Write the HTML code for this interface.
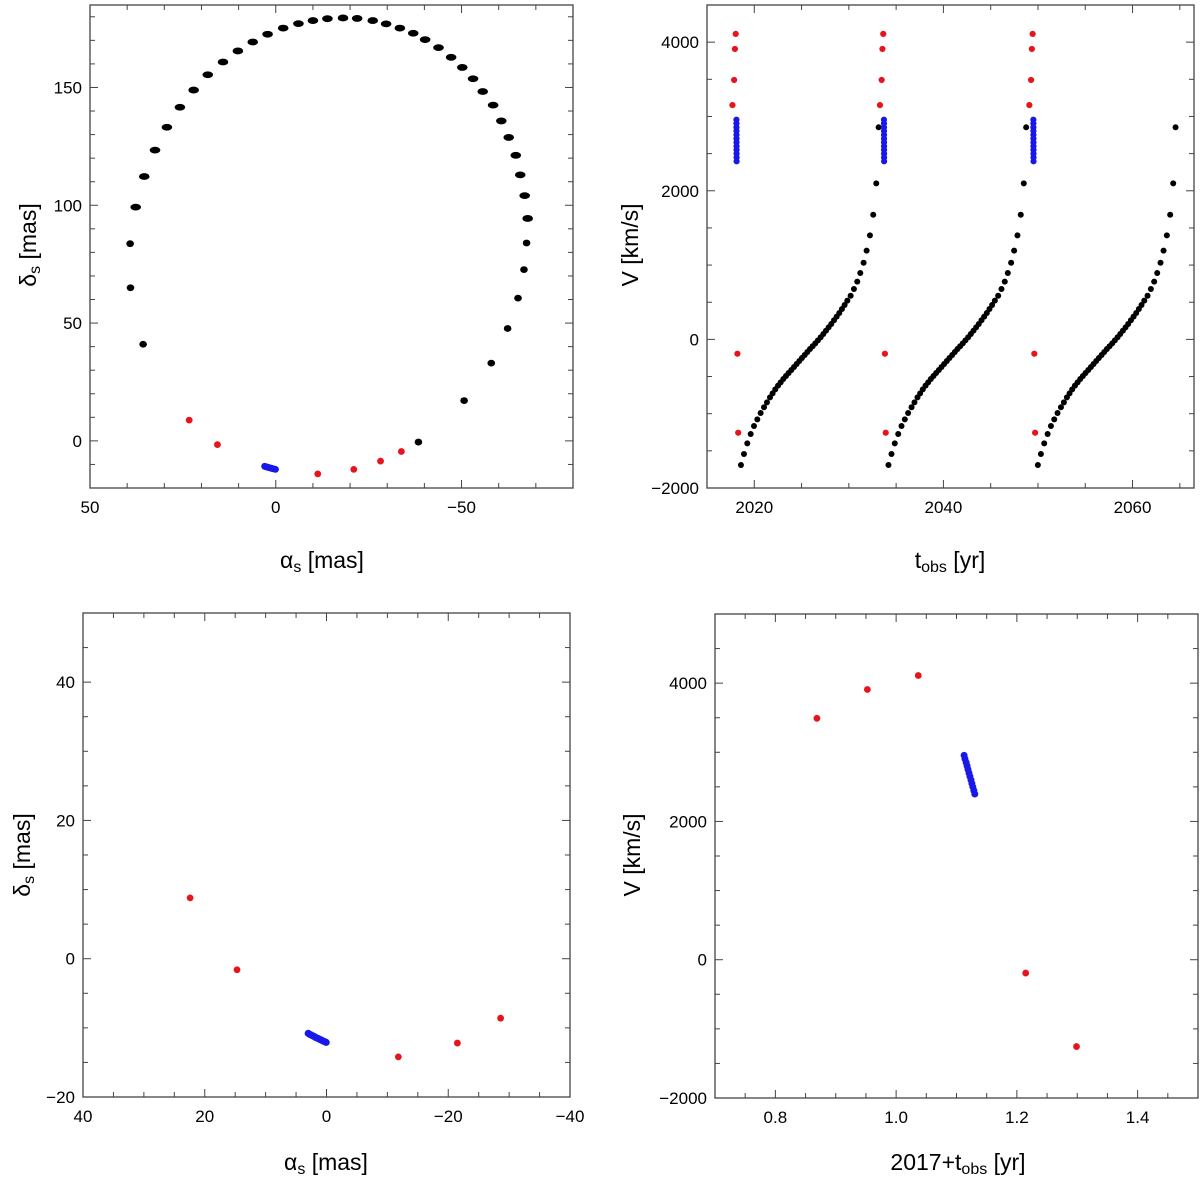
<!DOCTYPE html>
<html><head><meta charset="utf-8"><title>Orbit charts</title>
<style>
html,body{margin:0;padding:0;background:#fff;}
svg{display:block;font-family:"Liberation Sans",Arial,sans-serif;}
</style></head>
<body>
<svg id="fig" width="1200" height="1185" viewBox="0 0 1200 1185" xmlns="http://www.w3.org/2000/svg"></svg>
<script>
// ---------- Data ----------
const orbitAlpha = [-38.4,-50.7,-58,-62.4,-65.2,-66.8,-67.5,-67.8,-67,-65.8,-64.6,-62.7,-60.7,-58.5,-55.7,-53.1,-50.2,-47.2,-43.8,-40.2,-37,-33.4,-29.7,-26.1,-21.9,-18.1,-13.9,-10,-6.1,-2,2.2,6.2,10.2,14.2,18.3,22.1,25.8,29.3,32.5,35.4,37.7,39.2,39.1,35.7];
const orbitDelta = [-0.5,17.1,33,47.7,60.6,72.7,84,94.4,104.1,112.9,121.2,128.8,135.8,142.5,148.3,153.7,158.5,162.8,166.9,170.3,173,175.2,177,178.4,179.3,179.5,179.2,178.4,177.1,175.2,172.6,169.3,165.5,160.8,155.4,148.9,141.6,133.1,123.4,112.2,99.2,83.7,65,41];
const skyRedAlpha = [23.3,15.7,-11.3,-21,-28.2,-33.8];
const skyRedDelta = [8.8,-1.6,-14,-12.1,-8.6,-4.5];
const zoomRedAlpha = [22.4,14.7,-11.8,-21.5,-28.6];
const zoomRedDelta = [8.8,-1.6,-14.2,-12.2,-8.6];
const blueAlpha = [3.0,2.75,2.5,2.2,1.95,1.7,1.4,1.15,0.85,0.6,0.3,0.06];
const blueDelta = [-10.8,-10.93,-11.05,-11.17,-11.3,-11.42,-11.53,-11.65,-11.77,-11.88,-12.0,-12.1];
const velT = [2018.59,2018.91,2019.26,2019.62,2019.97,2020.32,2020.67,2021.03,2021.34,2021.66,2021.94,2022.22,2022.51,2022.79,2023.07,2023.35,2023.63,2023.92,2024.20,2024.48,2024.76,2025.04,2025.33,2025.61,2025.89,2026.17,2026.45,2026.73,2027.02,2027.30,2027.58,2027.86,2028.14,2028.43,2028.71,2028.99,2029.27,2029.55,2029.84,2030.19,2030.54,2030.89,2031.21,2031.56,2031.88,2032.23,2032.58,2032.90,2033.15];
const velV = [-1690,-1542,-1399,-1273,-1165,-1076,-991,-914,-847,-780,-726,-672,-623,-578,-533,-493,-452,-412,-372,-331,-291,-250,-210,-170,-129,-93,-53,-13,28,73,117,162,207,257,306,355,409,463,521,588,678,777,893,1032,1194,1400,1678,2100,2854];
const cycleShift = [0,15.6,31.4];
const redT = [0.69,0.8688,0.9524,1.0367,1.2146,1.2988];
const redV = [3153,3491,3908,4111,-193,-1256];
const blueT = [1.1126,1.114,1.116,1.1175,1.119,1.1207,1.1222,1.124,1.1255,1.127,1.1287,1.1303];
const blueV = [2956,2905,2853,2804,2752,2701,2652,2600,2549,2499,2447,2397];
const xTicksTL=[50,0,-50], yTicksTL=[0,50,100,150];
const xTicksTR=[2020,2040,2060], yTicksTR=[-2000,0,2000,4000];
const xTicksBL=[40,20,0,-20,-40], yTicksBL=[-20,0,20,40];
const xTicksBR=[0.8,1.0,1.2,1.4], yTicksBR=[-2000,0,2000,4000];

// ---------- Drawing ----------
const NS="http://www.w3.org/2000/svg";
const svg=document.getElementById('fig');
function mk(tag,attrs,parent){const e=document.createElementNS(NS,tag);for(const k in attrs)e.setAttribute(k,attrs[k]);(parent||svg).appendChild(e);return e;}
function fmt(v,dec){const s=Math.abs(v).toFixed(dec);return (v<0?"\u2212":"")+s;}

function makePanel(name,box,xr,yr,xMaj,yMaj,xMin,yMin,dec){
  const g=mk('g',{});
  
  
  const sx=v=>box.x0+(v-xr[0])/(xr[1]-xr[0])*(box.x1-box.x0);
  const sy=v=>box.y1-(v-yr[0])/(yr[1]-yr[0])*(box.y1-box.y0);
  const fr=mk('rect',{x:box.x0,y:box.y0,width:box.x1-box.x0,height:box.y1-box.y0,fill:'none',stroke:'#444','stroke-width':1.3},g);
  
  
  const lo=Math.min(xr[0],xr[1]),hi=Math.max(xr[0],xr[1]);
  for(let v=Math.ceil(lo/xMin-1e-9)*xMin;v<=hi+1e-9;v+=xMin){
    const major=xMaj.some(m=>Math.abs(m-v)<1e-6)||Math.abs(Math.round(v/(xMaj[1]-xMaj[0]))*(xMaj[1]-xMaj[0])-v)<1e-6;
    const L=major?8:5,x=sx(v);
    mk('line',{x1:x,y1:box.y1,x2:x,y2:box.y1-L,stroke:'#444','stroke-width':1},g);
    mk('line',{x1:x,y1:box.y0,x2:x,y2:box.y0+L,stroke:'#444','stroke-width':1},g);
  }
  for(let v=Math.ceil(yr[0]/yMin-1e-9)*yMin;v<=yr[1]+1e-9;v+=yMin){
    const step=yMaj[1]-yMaj[0];
    const major=Math.abs(Math.round(v/step)*step-v)<1e-6;
    const L=major?8:5,y=sy(v);
    mk('line',{x1:box.x0,y1:y,x2:box.x0+L,y2:y,stroke:'#444','stroke-width':1},g);
    mk('line',{x1:box.x1,y1:y,x2:box.x1-L,y2:y,stroke:'#444','stroke-width':1},g);
  }
  xMaj.forEach(v=>{const t=mk('text',{x:sx(v),y:box.y1+25,'font-size':17,'text-anchor':'middle',fill:'#000'},g);t.textContent=fmt(v,dec);
    
    });
  yMaj.forEach(v=>{const t=mk('text',{x:box.x0-8,y:sy(v)+6,'font-size':17,'text-anchor':'end',fill:'#000'},g);t.textContent=fmt(v,0);
    
    });
  return {g,sx,sy};
}
function dot(p,x,y,r,col,nm,rx){
  const c=mk('ellipse',{cx:p.sx(x),cy:p.sy(y),rx:rx||r,ry:r,fill:col},p.g);
  
  
}
function title(txt,sub,rest,x,y,rot,name){
  const t=mk('text',{x:x,y:y,'font-size':23,'text-anchor':'middle',fill:'#000',transform:rot?`rotate(-90 ${x} ${y})`:''});
  
  
  const a=mk('tspan',{},t);a.textContent=txt;
  if(sub){const b=mk('tspan',{'font-size':16,dy:4},t);b.textContent=sub;
    const c=mk('tspan',{dy:-4},t);c.textContent=rest;}
}
const RED='#e8141c',BLUE='#1818e8';

const pTL=makePanel('sky-orbit-panel',{x0:90,x1:573,y0:5,y1:488},[50,-80],[-20,185],xTicksTL,yTicksTL,10,10,0);
orbitAlpha.forEach((a,i)=>dot(pTL,a,orbitDelta[i],3.4,'#000','orbit-point',orbitDelta[i]>90?5.3:3.8));
skyRedAlpha.forEach((a,i)=>dot(pTL,a,skyRedDelta[i],3.4,RED,'red-observation'));
blueAlpha.forEach((a,i)=>dot(pTL,a,blueDelta[i],3.4,BLUE,'blue-observation'));
title('\u03b1','s',' [mas]',322,568,false,'x-axis-title');
title('\u03b4','s',' [mas]',36,245,true,'y-axis-title');

const pTR=makePanel('velocity-curve-panel',{x0:707,x1:1194,y0:5,y1:488},[2015,2066.5],[-2000,4500],xTicksTR,yTicksTR,5,500,0);
cycleShift.forEach(s=>{
  velT.forEach((t,i)=>dot(pTR,t+s,velV[i],3.0,'#000','velocity-point'));
  redT.forEach((t,i)=>dot(pTR,2017+t+s,redV[i],3.1,RED,'red-observation'));
  blueT.forEach((t,i)=>dot(pTR,2017+t+s,blueV[i],3.1,BLUE,'blue-observation'));
});
title('t','obs',' [yr]',950,568,false,'x-axis-title');
title('V [km/s]','','',638,245,true,'y-axis-title');

const pBL=makePanel('sky-zoom-panel',{x0:83,x1:570,y0:613,y1:1097},[40,-40],[-20,50],xTicksBL,yTicksBL,5,5,0);
zoomRedAlpha.forEach((a,i)=>dot(pBL,a,zoomRedDelta[i],3.4,RED,'red-observation'));
blueAlpha.forEach((a,i)=>dot(pBL,a,blueDelta[i],3.6,BLUE,'blue-observation'));
title('\u03b1','s',' [mas]',326,1170,false,'x-axis-title');
title('\u03b4','s',' [mas]',30,855,true,'y-axis-title');

const pBR=makePanel('velocity-zoom-panel',{x0:715,x1:1198,y0:614,y1:1098},[0.7,1.5],[-2000,5000],xTicksBR,yTicksBR,0.05,500,1);
redT.forEach((t,i)=>{ if(t>=0.7) dot(pBR,t,redV[i],3.4,RED,'red-observation');});
blueT.forEach((t,i)=>dot(pBR,t,blueV[i],3.5,BLUE,'blue-observation'));
title('2017+t','obs',' [yr]',958,1170,false,'x-axis-title');
title('V [km/s]','','',640,855,true,'y-axis-title');
</script>
</body></html>
